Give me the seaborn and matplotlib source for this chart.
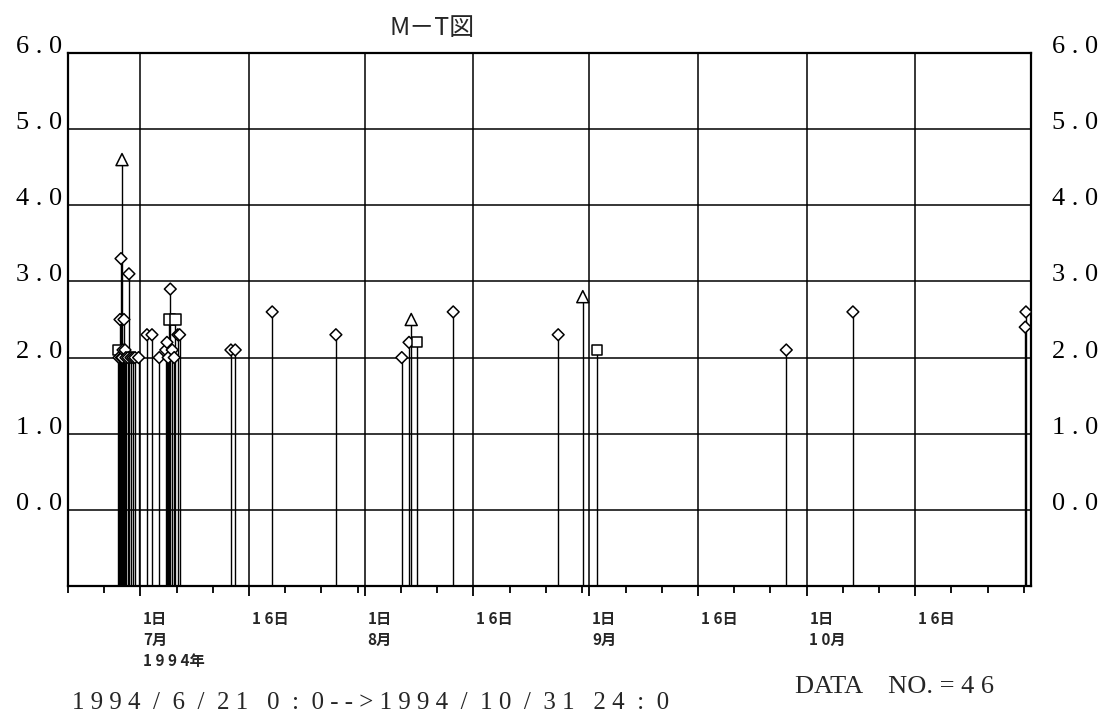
import numpy as np
import pandas as pd
import matplotlib
matplotlib.use("Agg")
import matplotlib.pyplot as plt
import matplotlib.dates as mdates
import matplotlib.transforms as mtransforms
import seaborn as sns

# ---------------- data ----------------
event_times = [
    "1994-06-27 21:40", "1994-06-28 01:00", "1994-06-28 04:20", "1994-06-28 07:40",
    "1994-06-28 09:00", "1994-06-28 11:00", "1994-06-28 12:00", "1994-06-28 14:20",
    "1994-06-28 17:30", "1994-06-28 21:00", "1994-06-29 00:00", "1994-06-29 07:00",
    "1994-06-29 10:00", "1994-06-29 16:50", "1994-06-29 23:30", "1994-06-30 06:00",
    "1994-06-30 18:00", "1994-07-01 21:40", "1994-07-02 14:20", "1994-07-03 14:20",
    "1994-07-04 12:00", "1994-07-04 16:00", "1994-07-04 20:00", "1994-07-05 00:00",
    "1994-07-05 03:00", "1994-07-05 09:30", "1994-07-05 16:00", "1994-07-05 20:00",
    "1994-07-06 04:00", "1994-07-06 10:00", "1994-07-13 12:00", "1994-07-14 02:20",
    "1994-07-19 04:50", "1994-07-28 00:00", "1994-08-06 02:20", "1994-08-07 02:20",
    "1994-08-07 09:40", "1994-08-08 04:00", "1994-08-13 04:50", "1994-08-27 16:50",
    "1994-08-31 02:20", "1994-09-02 02:20", "1994-09-28 04:50", "1994-10-07 09:40",
    "1994-10-31 04:50", "1994-10-31 07:10",
]
magnitudes = [
    2.1, 2.0, 2.5, 3.3,
    2.0, 4.6, 2.0, 2.1,
    2.5, 2.1, 2.0, 2.0,
    3.1, 2.0, 2.0, 2.0,
    2.0, 2.3, 2.3, 2.0,
    2.1, 2.2, 2.0, 2.5,
    2.9, 2.1, 2.0, 2.5,
    2.3, 2.3, 2.1, 2.1,
    2.6, 2.3, 2.0, 2.2,
    2.5, 2.2, 2.6, 2.3,
    2.8, 2.1, 2.1, 2.6,
    2.4, 2.6,
]
marker_kinds = [
    "S", "D", "D", "D",
    "D", "T", "D", "D",
    "D", "D", "D", "D",
    "D", "D", "D", "D",
    "D", "D", "D", "D",
    "D", "D", "D", "S",
    "D", "D", "D", "S",
    "D", "D", "D", "D",
    "D", "D", "D", "D",
    "T", "S", "D", "D",
    "T", "S", "D", "D",
    "D", "D",
]

tick_dates = ["1994-07-01", "1994-07-16", "1994-08-01", "1994-08-16",
              "1994-09-01", "1994-09-16", "1994-10-01", "1994-10-16"]
tick_labels = ["1日\n7月\n1 9 9 4年", "1 6日", "1日\n8月", "1 6日",
               "1日\n9月", "1 6日", "1日\n1 0月", "1 6日"]
y_values = [0, 1, 2, 3, 4, 5, 6]
y_labels = ["0 . 0", "1 . 0", "2 . 0", "3 . 0", "4 . 0", "5 . 0", "6 . 0"]

title_text = "M－T図"
range_text = "1 9 9 4  /  6  /  2 1   0  :  0 - - > 1 9 9 4  /  1 0  /  3 1   2 4  :  0"
count_text = "DATA    NO. = 4 6"

# ---------------- figure ----------------
sns.set_theme(style="white")
plt.rcParams["font.family"] = ["Liberation Serif", "Noto Sans CJK JP", "DejaVu Sans"]

W, H = 1103, 720
fig = plt.figure(figsize=(W / 100, H / 100), dpi=100)
fig.patch.set_facecolor("white")
ax = fig.add_axes([68 / W, 1 - 586 / H, (1031 - 68) / W, (586 - 53) / H])
ax.set_facecolor("white")

df = pd.DataFrame({"time": pd.to_datetime(event_times),
                   "mag": magnitudes,
                   "kind": marker_kinds})

ax.vlines(df["time"], -1, df["mag"], color="black", lw=1.0, zorder=3)
sns.scatterplot(data=df, x="time", y="mag", style="kind", size="kind",
                markers={"D": "D", "T": "^", "S": "s"},
                sizes={"D": 36, "T": 75, "S": 55},
                color="white", edgecolor="black", linewidth=1.1,
                legend=False, ax=ax, zorder=4)

ax.set_xlim(pd.Timestamp("1994-06-21 00:00"), pd.Timestamp("1994-11-01 00:00"))
ax.set_ylim(-1, 6)
ax.set_xlabel("")
ax.set_ylabel("")

ax.set_xticks(pd.to_datetime(tick_dates))
ax.set_xticklabels(tick_labels, ha="left", fontweight="bold",
                   family=["Noto Sans CJK JP"], fontsize=11, linespacing=1.4)
ax.xaxis.set_minor_locator(mdates.DayLocator(bymonthday=[6, 11, 21, 26, 31]))
ax.tick_params(axis="x", which="major", direction="out", length=7, width=1.3,
               color="black", pad=11, bottom=True)
ax.tick_params(axis="x", which="minor", direction="out", length=5, width=1.3,
               color="black", bottom=True)

ax.set_yticks(y_values)
ax.set_yticklabels(y_labels, fontsize=19, va="baseline", family=["Liberation Serif"])
ax.tick_params(axis="y", which="both", length=0, left=False, right=False,
               labelleft=True, labelright=True, pad=4, colors="black")
for t in ax.yaxis.get_major_ticks():
    t.label2.set_fontsize(19)
    t.label2.set_va("baseline")

ax.grid(True, which="major", axis="both", color="black", lw=1.1)
ax.set_axisbelow(True)
for sp in ax.spines.values():
    sp.set_visible(True)
    sp.set_color("black")
    sp.set_linewidth(1.6)

# shift right y-labels further from the spine
offset_r = mtransforms.ScaledTranslation(11 / 72, 0, fig.dpi_scale_trans)
for t in ax.yaxis.get_major_ticks():
    t.label2.set_transform(t.label2.get_transform() + offset_r)
# move x tick labels slightly right of the ticks
offset_x = mtransforms.ScaledTranslation(2 / 72, 0, fig.dpi_scale_trans)
for t in ax.xaxis.get_major_ticks():
    t.label1.set_transform(t.label1.get_transform() + offset_x)

fig.text(390 / W, 1 - 28 / H, title_text, ha="left", va="center",
         fontsize=18, family=["Noto Sans CJK JP"])
fig.text(72 / W, 1 - 703 / H, range_text, ha="left", va="center",
         fontsize=18, family=["Liberation Serif"])
fig.text(795 / W, 1 - 687 / H, count_text, ha="left", va="center",
         fontsize=19, family=["Liberation Serif"])

fig.savefig("out.png", dpi=100, facecolor="white")
